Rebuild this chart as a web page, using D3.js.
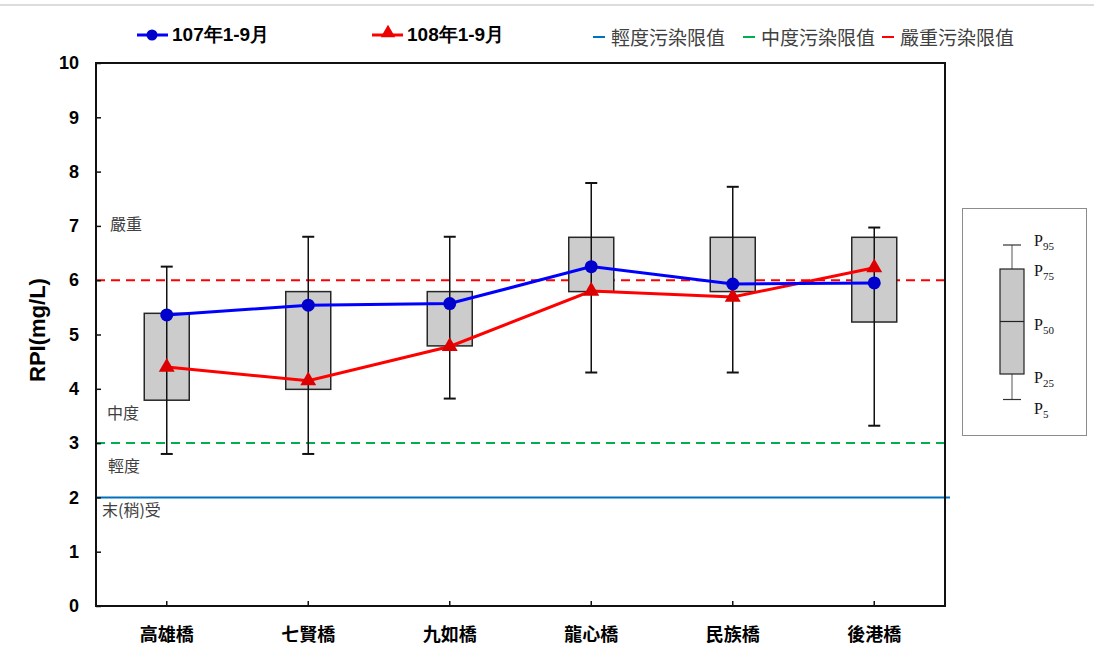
<!DOCTYPE html>
<html>
<head>
<meta charset="utf-8">
<script src="https://cdn.jsdelivr.net/npm/d3@7/dist/d3.min.js"></script>
<style>
  html, body { margin: 0; padding: 0; background: #fff; }
  svg { display: block; }
</style>
</head>
<body>
<svg id="chart" width="1094" height="652"></svg>
<script>
// Stations along the river
const stations = ["高雄橋", "七賢橋", "九如橋", "龍心橋", "民族橋", "後港橋"];
// RPI percentiles (mg/L) per station
const p5  = [2.80, 2.80, 3.82, 4.30, 4.30, 3.32];
const p25 = [3.79, 3.99, 4.79, 5.79, 5.79, 5.23];
const p75 = [5.39, 5.79, 5.79, 6.79, 6.79, 6.79];
const p95 = [6.25, 6.80, 6.80, 7.79, 7.72, 6.97];
// Jan–Sep averages for the two years
const series107 = [5.36, 5.54, 5.57, 6.25, 5.93, 5.95];
const series108 = [4.40, 4.15, 4.78, 5.80, 5.69, 6.23];
const yTicks = [0, 1, 2, 3, 4, 5, 6, 7, 8, 9, 10];
// Pollution thresholds
const thresholds = [
  { name: "輕度污染限值", value: 2, color: "#0070c0", dash: null },
  { name: "中度污染限值", value: 3, color: "#00b050", dash: "9,6" },
  { name: "嚴重污染限值", value: 6, color: "#ff0000", dash: "9,6" }
];
const zoneLabels = [
  { text: "嚴重", value: 7.0, dx: 14 },
  { text: "中度", value: 3.52, dx: 11 },
  { text: "輕度", value: 2.54, dx: 12 },
  { text: "末(稍)受", value: 1.73, dx: 6 }
];

const cjk = "'Noto Sans CJK TC', 'Noto Sans CJK SC', sans-serif";
const latin = "'Liberation Sans', Arial, sans-serif";

const svg = d3.select("#chart");
const plot = { left: 96, right: 945, top: 63, bottom: 606 };

const x = d3.scaleBand().domain(stations).range([plot.left, plot.right]);
const y = d3.scaleLinear().domain([0, 10]).range([plot.bottom, plot.top]);
const cx = d => x(d) + x.bandwidth() / 2;

// thin rule along the top edge
svg.append("line").attr("x1", 0).attr("x2", 1094).attr("y1", 5).attr("y2", 5)
  .attr("stroke", "#dcdcdc").attr("stroke-width", 2);

// threshold lines
svg.append("g").selectAll("line").data(thresholds).join("line")
  .attr("x1", plot.left).attr("x2", d => d.dash ? plot.right : plot.right + 5)
  .attr("y1", d => y(d.value)).attr("y2", d => y(d.value))
  .attr("stroke", d => d.color).attr("stroke-width", 2)
  .attr("stroke-dasharray", d => d.dash);

// zone labels
svg.append("g").selectAll("text").data(zoneLabels).join("text")
  .attr("x", d => plot.left + d.dx).attr("y", d => y(d.value))
  .attr("dominant-baseline", "middle")
  .attr("font-family", cjk).attr("font-size", 16).attr("fill", "#404040")
  .text(d => d.text);

// box plots
const boxW = 45;
const boxes = svg.append("g");
stations.forEach((s, i) => {
  const c = cx(s);
  boxes.append("rect")
    .attr("x", c - boxW / 2).attr("y", y(p75[i]))
    .attr("width", boxW).attr("height", y(p25[i]) - y(p75[i]))
    .attr("fill", "#cccccc").attr("stroke", "#262626").attr("stroke-width", 1.5);
  boxes.append("line").attr("x1", c).attr("x2", c)
    .attr("y1", y(p95[i])).attr("y2", y(p5[i]))
    .attr("stroke", "#111").attr("stroke-width", 1.5);
  [p95[i], p5[i]].forEach(v => {
    boxes.append("line").attr("x1", c - 6).attr("x2", c + 6)
      .attr("y1", y(v)).attr("y2", y(v))
      .attr("stroke", "#111").attr("stroke-width", 2);
  });
});

// axes frame
svg.append("rect").attr("x", plot.left).attr("y", plot.top)
  .attr("width", plot.right - plot.left).attr("height", plot.bottom - plot.top)
  .attr("fill", "none").attr("stroke", "#111").attr("stroke-width", 2);

const yAxis = svg.append("g").attr("transform", `translate(${plot.left},0)`)
  .call(d3.axisLeft(y).tickValues(yTicks).tickSizeInner(-5).tickSizeOuter(0).tickPadding(17));
yAxis.select(".domain").remove();
yAxis.selectAll(".tick line").attr("stroke", "#111").attr("stroke-width", 1.5);
yAxis.selectAll("text").attr("font-family", latin).attr("font-weight", "bold")
  .attr("font-size", 18).attr("fill", "#000");

const xAxis = svg.append("g").attr("transform", `translate(0,${plot.bottom})`)
  .call(d3.axisBottom(x).tickSizeInner(-5).tickSizeOuter(0).tickPadding(22));
xAxis.select(".domain").remove();
xAxis.selectAll(".tick line").attr("stroke", "#111").attr("stroke-width", 1.5);
xAxis.selectAll("text").attr("font-family", cjk).attr("font-weight", "bold")
  .attr("font-size", 18).attr("fill", "#000");

// y-axis title
svg.append("text").attr("transform", "translate(45,330) rotate(-90)")
  .attr("text-anchor", "middle").attr("font-family", latin).attr("font-weight", "bold")
  .attr("font-size", 22).attr("fill", "#000").text("RPI(mg/L)");

// year series
const line = d3.line().x((d, i) => cx(stations[i])).y(d => y(d));
const tri = d3.symbol().type(d3.symbolTriangle).size(110);

svg.append("path").datum(series108).attr("d", line)
  .attr("fill", "none").attr("stroke", "#ff0000").attr("stroke-width", 3);
svg.append("path").datum(series107).attr("d", line)
  .attr("fill", "none").attr("stroke", "#0000ff").attr("stroke-width", 3);

svg.append("g").selectAll("path").data(series108).join("path")
  .attr("d", tri)
  .attr("transform", (d, i) => `translate(${cx(stations[i])},${y(d)})`)
  .attr("fill", "#dd0000");
svg.append("g").selectAll("circle").data(series107).join("circle")
  .attr("cx", (d, i) => cx(stations[i])).attr("cy", d => y(d)).attr("r", 6.5)
  .attr("fill", "#0000cc");

// legend (top)
const leg = svg.append("g");
leg.append("line").attr("x1", 137).attr("x2", 168).attr("y1", 35).attr("y2", 35)
  .attr("stroke", "#0000ff").attr("stroke-width", 3);
leg.append("circle").attr("cx", 152).attr("cy", 35).attr("r", 5.5).attr("fill", "#0000cc");
leg.append("text").attr("x", 172).attr("y", 36).attr("dominant-baseline", "middle")
  .attr("font-family", latin).attr("font-weight", "bold").attr("font-size", 19)
  .text("107年1-9月");
leg.append("line").attr("x1", 372).attr("x2", 403).attr("y1", 35).attr("y2", 35)
  .attr("stroke", "#ff0000").attr("stroke-width", 3);
leg.append("path").attr("d", d3.symbol().type(d3.symbolTriangle).size(90))
  .attr("transform", "translate(388,33)").attr("fill", "#ee0000");
leg.append("text").attr("x", 407).attr("y", 36).attr("dominant-baseline", "middle")
  .attr("font-family", latin).attr("font-weight", "bold").attr("font-size", 19)
  .text("108年1-9月");

const thrLegX = [593, 743, 882];
thresholds.forEach((t, i) => {
  leg.append("line").attr("x1", thrLegX[i]).attr("x2", thrLegX[i] + 12)
    .attr("y1", 37).attr("y2", 37).attr("stroke", t.color).attr("stroke-width", 2);
  leg.append("text").attr("x", thrLegX[i] + 18).attr("y", 40).attr("dominant-baseline", "middle")
    .attr("font-family", cjk).attr("font-size", 19).attr("fill", "#404040")
    .text(t.name);
});

// box legend
const bl = svg.append("g");
bl.append("rect").attr("x", 962.5).attr("y", 208.5).attr("width", 124).attr("height", 227)
  .attr("fill", "#fff").attr("stroke", "#8c8c8c");
const lx = 1012;
bl.append("line").attr("x1", lx).attr("x2", lx).attr("y1", 245).attr("y2", 399.5)
  .attr("stroke", "#555").attr("stroke-width", 1);
[245, 399.5].forEach(v => bl.append("line").attr("x1", lx - 9).attr("x2", lx + 9)
  .attr("y1", v).attr("y2", v).attr("stroke", "#333").attr("stroke-width", 1.2));
bl.append("rect").attr("x", 1000).attr("y", 269).attr("width", 24).attr("height", 105)
  .attr("fill", "#c8c8c8").attr("stroke", "#222").attr("stroke-width", 1.2);
bl.append("line").attr("x1", 1000).attr("x2", 1024).attr("y1", 321.5).attr("y2", 321.5)
  .attr("stroke", "#222").attr("stroke-width", 1.2);
const pLabels = [["95", 246], ["75", 276], ["50", 330], ["25", 383], ["5", 414]];
pLabels.forEach(([sub, yy]) => {
  const t = bl.append("text").attr("x", 1034).attr("y", yy)
    .attr("font-family", "'Liberation Serif', 'Times New Roman', serif").attr("font-size", 16)
    .attr("fill", "#111");
  t.append("tspan").text("P");
  t.append("tspan").attr("dy", 4).attr("font-size", 11).text(sub);
});
</script>
</body>
</html>
